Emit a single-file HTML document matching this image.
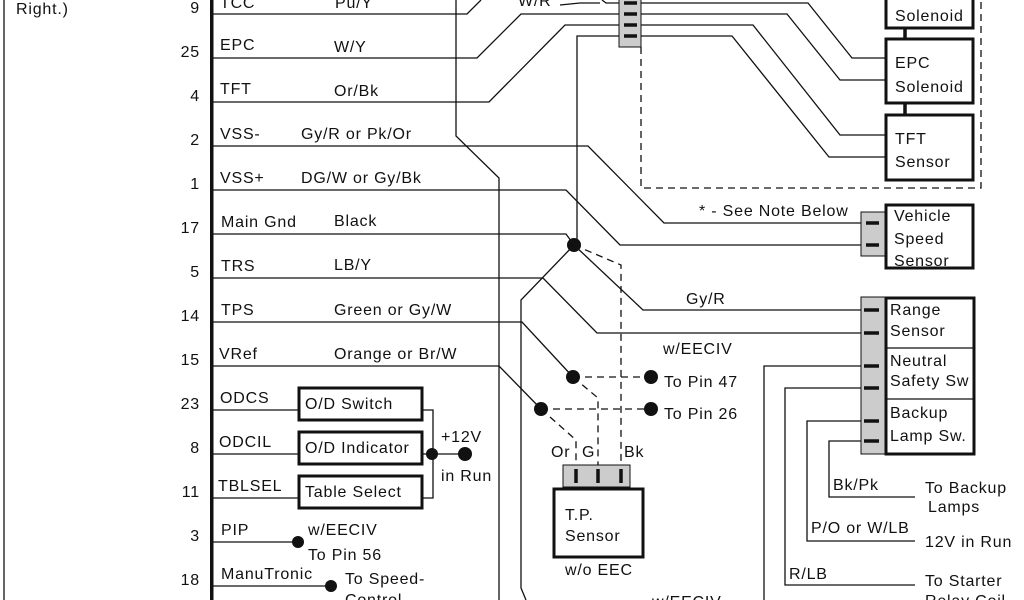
<!DOCTYPE html>
<html><head><style>
body{margin:0;background:#fff;}
svg{display:block;}
text{font-family:"Liberation Sans",sans-serif;font-size:16px;letter-spacing:0.8px;fill:#111;}
</style></head><body>
<svg width="1024" height="600" viewBox="0 0 1024 600" xmlns="http://www.w3.org/2000/svg">
<g stroke="#111" stroke-width="1.3" fill="none">
<line x1="4" y1="0" x2="4" y2="600"/>
<polyline points="212,14 467,14 481,0"/>
<polyline points="212,58 477,58 521,14 620,14"/>
<polyline points="212,102 489,102 565,25 620,25"/>
<polyline points="212,146 588,146 664,223 862,223"/>
<polyline points="212,190 566,190 620,245 862,245"/>
<polyline points="212,234 566,234 574,245"/>
<polyline points="212,278 543,278 597,333 862,333"/>
<polyline points="212,322 522,322 573,377"/>
<polyline points="212,366 499,366 541,409"/>
<line x1="212" y1="410" x2="299" y2="410"/>
<line x1="212" y1="454" x2="299" y2="454"/>
<line x1="212" y1="498" x2="299" y2="498"/>
<line x1="212" y1="542" x2="298" y2="542"/>
<line x1="212" y1="586" x2="331" y2="586"/>
<polyline points="456,0 456,136 499,178 499,600"/>
<polyline points="560,5 580,3 600,3"/>
<polyline points="602,0 606,3 620,3"/>
<polyline points="620,36 577,36 577,245"/>
<polyline points="574,245 521,300 521,588 526,600"/>
<polyline points="574,245 643,310 862,310"/>
<polyline points="641,3 808,3 852,58 885,58"/>
<polyline points="641,14 787,14 840,80 885,80"/>
<polyline points="641,25 753,25 840,135 885,135"/>
<polyline points="641,36 732,36 829,157 885,157"/>
<polyline points="422,410 433,410 433,498 422,498"/>
<line x1="422" y1="454" x2="465" y2="454"/>
<polyline points="862,366 764,366 764,600"/>
<polyline points="862,388 785,388 785,585 915,585"/>
<polyline points="862,421 807,421 807,541 915,541"/>
<polyline points="862,441 829,441 829,497 915,497"/>
</g>
<g stroke="#111" stroke-width="1.3" fill="none" stroke-dasharray="7,5">
<polyline points="641,47 641,188 981,188 981,0"/>
<polyline points="574,245 621,265 621,490"/>
<line x1="573" y1="377" x2="651" y2="377"/>
<line x1="541" y1="409" x2="651" y2="409"/>
<polyline points="573,377 598,398 598,490"/>
<polyline points="541,409 576,440 576,490"/>
</g>
<rect x="210" y="0" width="3.5" height="600" fill="#111"/>
<rect x="619" y="-2" width="22" height="49" fill="#ccc" stroke="#111" stroke-width="1"/>
<g stroke="#111" stroke-width="3.5">
<line x1="624" y1="3" x2="637" y2="3"/><line x1="624" y1="14" x2="637" y2="14"/>
<line x1="624" y1="25" x2="637" y2="25"/><line x1="624" y1="36" x2="637" y2="36"/>
<line x1="905" y1="28" x2="905" y2="39"/><line x1="905" y1="103" x2="905" y2="115"/>
</g>
<g fill="#fff" stroke="#111" stroke-width="3">
<rect x="886" y="-5" width="87" height="33"/>
<rect x="886" y="39" width="87" height="64"/>
<rect x="886" y="115" width="87" height="65"/>
<rect x="886" y="205" width="87" height="63"/>
<rect x="886" y="298" width="88" height="156"/>
<rect x="299" y="388" width="123" height="32"/>
<rect x="299" y="432" width="123" height="32"/>
<rect x="299" y="476" width="123" height="32"/>
<rect x="554" y="489" width="89" height="68"/>
</g>
<rect x="861" y="212" width="24" height="44" fill="#ccc" stroke="#111" stroke-width="1"/>
<g stroke="#111" stroke-width="3.5"><line x1="866" y1="223" x2="879" y2="223"/><line x1="866" y1="245" x2="879" y2="245"/></g>
<rect x="861" y="297" width="24" height="157" fill="#ccc" stroke="#111" stroke-width="1"/>
<g stroke="#111" stroke-width="3.5">
<line x1="864" y1="310" x2="879" y2="310"/><line x1="864" y1="333" x2="879" y2="333"/>
<line x1="864" y1="366" x2="879" y2="366"/><line x1="864" y1="388" x2="879" y2="388"/>
<line x1="864" y1="421" x2="879" y2="421"/><line x1="864" y1="441" x2="879" y2="441"/>
</g>
<line x1="887" y1="348" x2="973" y2="348" stroke="#111" stroke-width="1.3"/>
<line x1="887" y1="399" x2="973" y2="399" stroke="#111" stroke-width="1.3"/>
<rect x="563" y="465" width="67" height="22" fill="#ccc" stroke="#111" stroke-width="1"/>
<g stroke="#111" stroke-width="3.5">
<line x1="576" y1="469" x2="576" y2="483"/><line x1="598" y1="469" x2="598" y2="483"/><line x1="621" y1="469" x2="621" y2="483"/>
</g>
<g fill="#111">
<circle cx="574" cy="245" r="7"/>
<circle cx="573" cy="377" r="7"/><circle cx="541" cy="409" r="7"/>
<circle cx="651" cy="377" r="7"/><circle cx="651" cy="409" r="7"/>
<circle cx="432" cy="454" r="6"/><circle cx="465" cy="454" r="7"/>
<circle cx="298" cy="542" r="6"/><circle cx="331" cy="586" r="6"/>
</g>
<text x="16" y="14">Right.)</text>
<g text-anchor="end">
<text x="200" y="13">9</text><text x="200" y="57">25</text><text x="200" y="101">4</text>
<text x="200" y="145">2</text><text x="200" y="189">1</text><text x="200" y="233">17</text>
<text x="200" y="277">5</text><text x="200" y="321">14</text><text x="200" y="365">15</text>
<text x="200" y="409">23</text><text x="200" y="453">8</text><text x="200" y="497">11</text>
<text x="200" y="541">3</text><text x="200" y="585">18</text>
</g>
<text x="220" y="8">TCC</text><text x="335" y="8">Pu/Y</text>
<text x="220" y="50">EPC</text><text x="334" y="52">W/Y</text>
<text x="220" y="94">TFT</text><text x="334" y="96">Or/Bk</text>
<text x="220" y="139">VSS-</text><text x="301" y="139">Gy/R or Pk/Or</text>
<text x="220" y="183">VSS+</text><text x="301" y="183">DG/W or Gy/Bk</text>
<text x="221" y="227">Main Gnd</text><text x="334" y="226">Black</text>
<text x="221" y="271">TRS</text><text x="334" y="270">LB/Y</text>
<text x="221" y="315">TPS</text><text x="334" y="315">Green or Gy/W</text>
<text x="219" y="359">VRef</text><text x="334" y="359">Orange or Br/W</text>
<text x="220" y="403">ODCS</text><text x="219" y="447">ODCIL</text><text x="218" y="491">TBLSEL</text>
<text x="221" y="535">PIP</text><text x="221" y="579">ManuTronic</text>
<text x="305" y="409">O/D Switch</text><text x="305" y="453">O/D Indicator</text><text x="305" y="497">Table Select</text>
<text x="441" y="442">+12V</text><text x="441" y="481">in Run</text>
<text x="308" y="535">w/EECIV</text><text x="308" y="560">To Pin 56</text>
<text x="345" y="584">To Speed-</text><text x="345" y="605">Control</text>
<text x="518" y="6">W/R</text>
<text x="895" y="21">Solenoid</text>
<text x="895" y="68">EPC</text><text x="895" y="92">Solenoid</text>
<text x="895" y="144">TFT</text><text x="895" y="167">Sensor</text>
<text x="699" y="216">* - See Note Below</text>
<text x="894" y="221">Vehicle</text><text x="894" y="244">Speed</text><text x="894" y="266">Sensor</text>
<text x="686" y="304">Gy/R</text>
<text x="890" y="315">Range</text><text x="890" y="336">Sensor</text>
<text x="890" y="366">Neutral</text><text x="890" y="386">Safety Sw</text>
<text x="890" y="418">Backup</text><text x="890" y="441">Lamp Sw.</text>
<text x="663" y="354">w/EECIV</text>
<text x="664" y="387">To Pin 47</text><text x="664" y="419">To Pin 26</text>
<text x="551" y="457">Or</text><text x="582" y="457">G</text><text x="624" y="457">Bk</text>
<text x="565" y="520">T.P.</text><text x="565" y="541">Sensor</text>
<text x="565" y="575">w/o EEC</text>
<text x="652" y="607">w/EECIV</text>
<text x="833" y="490">Bk/Pk</text><text x="925" y="493">To Backup</text><text x="928" y="512">Lamps</text>
<text x="811" y="533">P/O or W/LB</text><text x="925" y="547">12V in Run</text>
<text x="789" y="579">R/LB</text><text x="925" y="586">To Starter</text><text x="925" y="606">Relay Coil</text>
</svg>
</body></html>
